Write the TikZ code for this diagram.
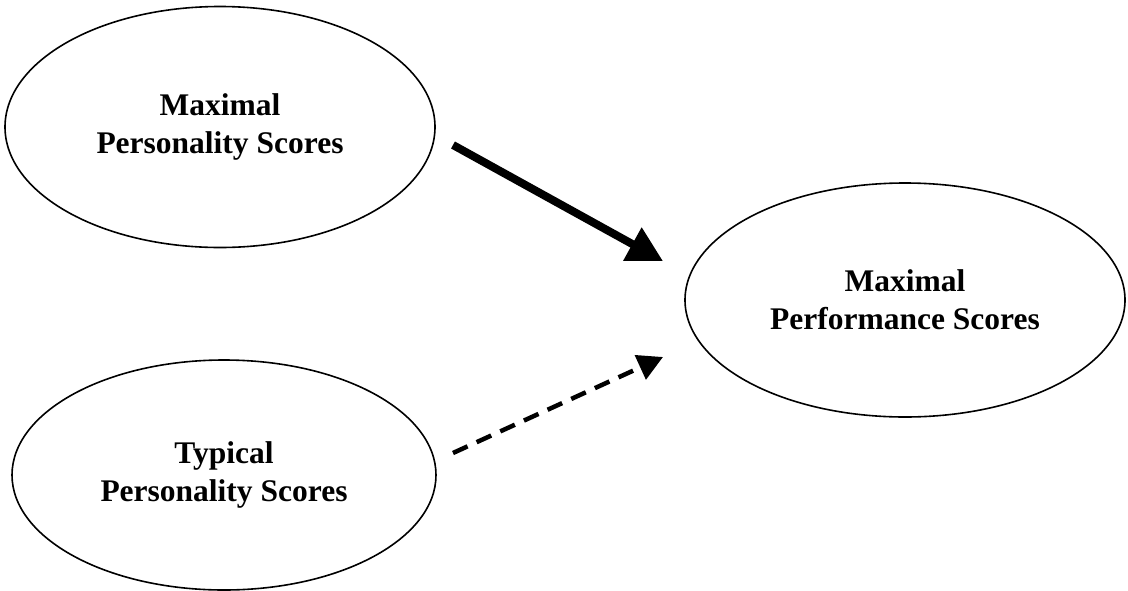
\documentclass[tikz,border=0pt]{standalone}
\usepackage{fontspec}
\setmainfont{Liberation Serif}
\usetikzlibrary{shapes.geometric,arrows.meta}
\begin{document}
\begin{tikzpicture}[x=1pt,y=-1pt,
  latent/.style={draw=black, line width=1.6pt, ellipse, inner sep=0pt,
    align=center, font=\fontsize{31.5}{38}\selectfont\bfseries},
  strongpath/.style={line width=8pt, -{Triangle[length=35pt,width=36pt]}},
  weakpath/.style={line width=4.5pt, dash pattern=on 16pt off 10pt, -{Triangle[length=25pt,width=26pt]}}]
\useasboundingbox (0,0) rectangle (1128,590);
\node[latent, minimum width=430pt, minimum height=241pt] (maxpers) at (220,127) {Maximal\\Personality Scores};
\node[latent, minimum width=424pt, minimum height=230pt] (typpers) at (224,475) {Typical\\Personality Scores};
\node[latent, minimum width=440pt, minimum height=234pt] (maxperf) at (905,300) {Maximal\\Performance Scores};
\coordinate (s1) at (453,145);
\coordinate (t1) at (663,261);
\coordinate (s2) at (453,453);
\coordinate (t2) at (663,357);
\draw[strongpath] (s1) -- (t1);
\draw[weakpath] (s2) -- (t2);
\end{tikzpicture}
\end{document}
